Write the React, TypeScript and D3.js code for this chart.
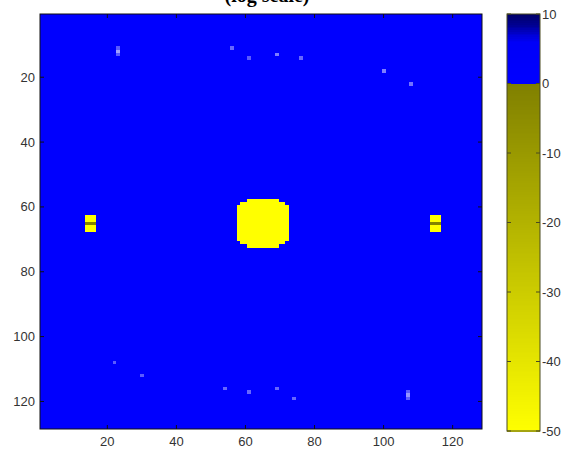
import React from "react";
import * as d3 from "d3";

// ---- data ----
const GRID_SIZE = 128;
const X_TICKS = [20, 40, 60, 80, 100, 120];
const Y_TICKS = [20, 40, 60, 80, 100, 120];
const CBAR_TICKS = [10, 0, -10, -20, -30, -40, -50];
const CBAR_MIN = -50;
const CBAR_MAX = 10;
const TITLE = "(log scale)";
const BACKGROUND_VALUE = 1;

// filled spans: [row, firstCol, lastCol, value]
const CENTER_DISK: [number, number, number, number][] = [
  [58, 61, 69, -50],
  [59, 59, 71, -50],
  [60, 58, 72, -50],
  [61, 58, 72, -50],
  [62, 58, 72, -50],
  [63, 58, 72, -50],
  [64, 58, 72, -50],
  [65, 58, 72, -50],
  [66, 58, 72, -50],
  [67, 58, 72, -50],
  [68, 58, 72, -50],
  [69, 58, 72, -50],
  [70, 58, 72, -50],
  [71, 59, 71, -50],
  [72, 61, 69, -50],
];
const LEFT_BLOB: [number, number, number, number][] = [
  [63, 14, 16, -50],
  [64, 14, 16, -50],
  [65, 14, 16, -1],
  [66, 14, 16, -50],
  [67, 14, 16, -50],
];
const RIGHT_BLOB: [number, number, number, number][] = [
  [63, 114, 116, -50],
  [64, 114, 116, -50],
  [65, 114, 116, -1],
  [66, 114, 116, -50],
  [67, 114, 116, -50],
];

// faint light spots
const SPOT_COLS = [23, 23, 23, 56, 61, 69, 76, 100, 108, 22, 30, 54, 61, 69, 74, 107, 107, 107];
const SPOT_ROWS = [11, 12, 13, 11, 14, 13, 14, 18, 22, 108, 112, 116, 117, 116, 119, 117, 118, 119];
const SPOT_GLOW = [0.4, 0.7, 0.4, 0.45, 0.4, 0.55, 0.45, 0.55, 0.5, 0.4, 0.4, 0.45, 0.45, 0.45, 0.45, 0.4, 0.65, 0.4];

export default function App() {
  const W = 566;
  const H = 452;
  const plot = { x0: 40, x1: 482, y0: 14, y1: 429 };
  const cb = { x0: 507, x1: 540, y0: 14, y1: 431 };

  const x = d3.scaleLinear().domain([0.5, GRID_SIZE + 0.5]).range([plot.x0, plot.x1]);
  const y = d3.scaleLinear().domain([0.5, GRID_SIZE + 0.5]).range([plot.y0, plot.y1]);
  const color = d3
    .scaleLinear<string>()
    .domain([-50, 0, 0.001, 6, 7, 8.5, 10])
    .range(["#ffff00", "#808000", "#0000ff", "#0000f8", "#0000d8", "#000090", "#000066"])
    .interpolate(d3.interpolateRgb)
    .clamp(true);
  const cy = d3.scaleLinear().domain([CBAR_MIN, CBAR_MAX]).range([cb.y1, cb.y0]);

  const bg = color(BACKGROUND_VALUE);
  const spans = [...CENTER_DISK, ...LEFT_BLOB, ...RIGHT_BLOB];
  const cells: { r: number; c: number; fill: string }[] = [];
  spans.forEach(([r, c0, c1, v]) => {
    for (let c = c0; c <= c1; c++) cells.push({ r, c, fill: color(v) });
  });
  SPOT_COLS.forEach((c, i) => {
    cells.push({ r: SPOT_ROWS[i], c, fill: d3.interpolateRgb(bg, "#e4e4ff")(SPOT_GLOW[i]) });
  });

  const levels = d3.range(CBAR_MIN, CBAR_MAX, 0.25);
  const font = "'Liberation Sans Narrow', 'Arial Narrow', 'Liberation Sans', Arial, sans-serif";
  const tickLen = 4;

  return (
    <svg
      width={W}
      height={H}
      style={{ position: "absolute", left: 0, top: 0, background: "#fff" }}
    >
      <text
        x={267}
        y={2}
        textAnchor="middle"
        fontFamily="'Liberation Serif', 'Times New Roman', serif"
        fontWeight="bold"
        fontSize={20}
        fill="#000"
      >
        {TITLE}
      </text>

      {/* image */}
      <rect x={plot.x0} y={plot.y0} width={plot.x1 - plot.x0} height={plot.y1 - plot.y0} fill={bg} />
      <g shapeRendering="crispEdges">
        {cells.map((d, i) => (
          <rect
            key={i}
            x={x(d.c - 0.5)}
            y={y(d.r - 0.5)}
            width={x(d.c + 0.5) - x(d.c - 0.5) + 0.3}
            height={y(d.r + 0.5) - y(d.r - 0.5) + 0.3}
            fill={d.fill}
          />
        ))}
      </g>
      <rect
        x={plot.x0}
        y={plot.y0}
        width={plot.x1 - plot.x0}
        height={plot.y1 - plot.y0}
        fill="none"
        stroke="#111"
        strokeWidth={1}
      />
      {X_TICKS.map((t) => (
        <g key={"xt" + t}>
          <line x1={x(t)} x2={x(t)} y1={plot.y1} y2={plot.y1 - tickLen} stroke="#111" />
          <line x1={x(t)} x2={x(t)} y1={plot.y0} y2={plot.y0 + tickLen} stroke="#111" />
          <text x={x(t)} y={446} textAnchor="middle" fontFamily={font} fontSize={13} fill="#333">
            {t}
          </text>
        </g>
      ))}
      {Y_TICKS.map((t) => (
        <g key={"yt" + t}>
          <line x1={plot.x0} x2={plot.x0 + tickLen} y1={y(t)} y2={y(t)} stroke="#111" />
          <line x1={plot.x1} x2={plot.x1 - tickLen} y1={y(t)} y2={y(t)} stroke="#111" />
          <text
            x={35}
            y={y(t)}
            dy="0.35em"
            textAnchor="end"
            fontFamily={font}
            fontSize={13}
            fill="#333"
          >
            {t}
          </text>
        </g>
      ))}

      {/* colorbar */}
      <g shapeRendering="crispEdges">
        {levels.map((v) => (
          <rect
            key={"cb" + v}
            x={cb.x0}
            y={cy(v + 0.25)}
            width={cb.x1 - cb.x0}
            height={cy(v) - cy(v + 0.25) + 0.5}
            fill={color(v + 0.125)}
          />
        ))}
      </g>
      <rect
        x={cb.x0}
        y={cb.y0}
        width={cb.x1 - cb.x0}
        height={cb.y1 - cb.y0}
        fill="none"
        stroke="#4a4a20"
        strokeWidth={1}
      />
      {CBAR_TICKS.map((t) => (
        <g key={"ct" + t}>
          <line x1={cb.x0} x2={cb.x0 + tickLen} y1={cy(t)} y2={cy(t)} stroke="#4a4a20" />
          <line x1={cb.x1} x2={cb.x1 - tickLen} y1={cy(t)} y2={cy(t)} stroke="#4a4a20" />
          <text
            x={542}
            y={cy(t)}
            dy="0.35em"
            textAnchor="start"
            fontFamily={font}
            fontSize={13}
            fill="#333"
          >
            {t}
          </text>
        </g>
      ))}
    </svg>
  );
}
